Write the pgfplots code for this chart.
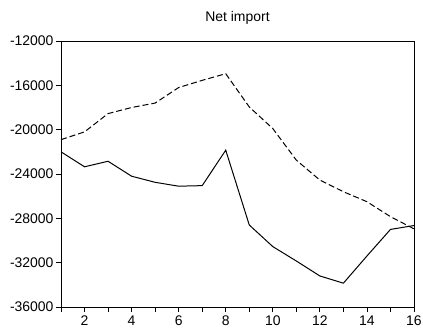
\documentclass[border=0pt]{standalone}
\usepackage{fontspec}
\setmainfont{Liberation Sans}
\usepackage{pgfplots}
\pgfplotsset{compat=1.18}
\begin{document}
\begin{tikzpicture}
\begin{axis}[
  scale only axis,
  width=353bp, height=266bp,
  xmin=1, xmax=16, ymin=-36000, ymax=-12000,
  xtick={1,...,16},
  xticklabels={,2,,4,,6,,8,,10,,12,,14,,16},
  ytick={-36000,-32000,-28000,-24000,-20000,-16000,-12000},
  scaled y ticks=false,
  /pgf/number format/assume math mode=true,
  /pgf/number format/1000 sep={},
  /pgf/number format/fixed,
  tick pos=left,
  tick align=outside,
  major tick length=5bp,
  tick style={black, line width=0.8pt},
  axis line style={line width=0.9pt},
  ticklabel style={font=\fontsize{14}{16}\selectfont},
  yticklabel style={xshift=1bp},
  title={Net import},
  title style={font=\fontsize{14}{16}\selectfont, yshift=7bp},
]
\addplot[black, line width=1pt, dash pattern=on 6bp off 3bp] coordinates {
 (1,-20900) (2,-20200) (3,-18550) (4,-18000) (5,-17600) (6,-16200) (7,-15550) (8,-14950)
 (9,-17950) (10,-19900) (11,-22750) (12,-24550) (13,-25600) (14,-26500) (15,-27850) (16,-28950)
};
\addplot[black, line width=1pt] coordinates {
 (1,-22000) (2,-23350) (3,-22850) (4,-24200) (5,-24750) (6,-25100) (7,-25050) (8,-21850)
 (9,-28600) (10,-30550) (11,-31850) (12,-33200) (13,-33850) (14,-31400) (15,-29000) (16,-28650)
};
\end{axis}
\pgfresetboundingbox
\path (-61bp,-26bp) rectangle (362bp,307bp);
\end{tikzpicture}
\end{document}
